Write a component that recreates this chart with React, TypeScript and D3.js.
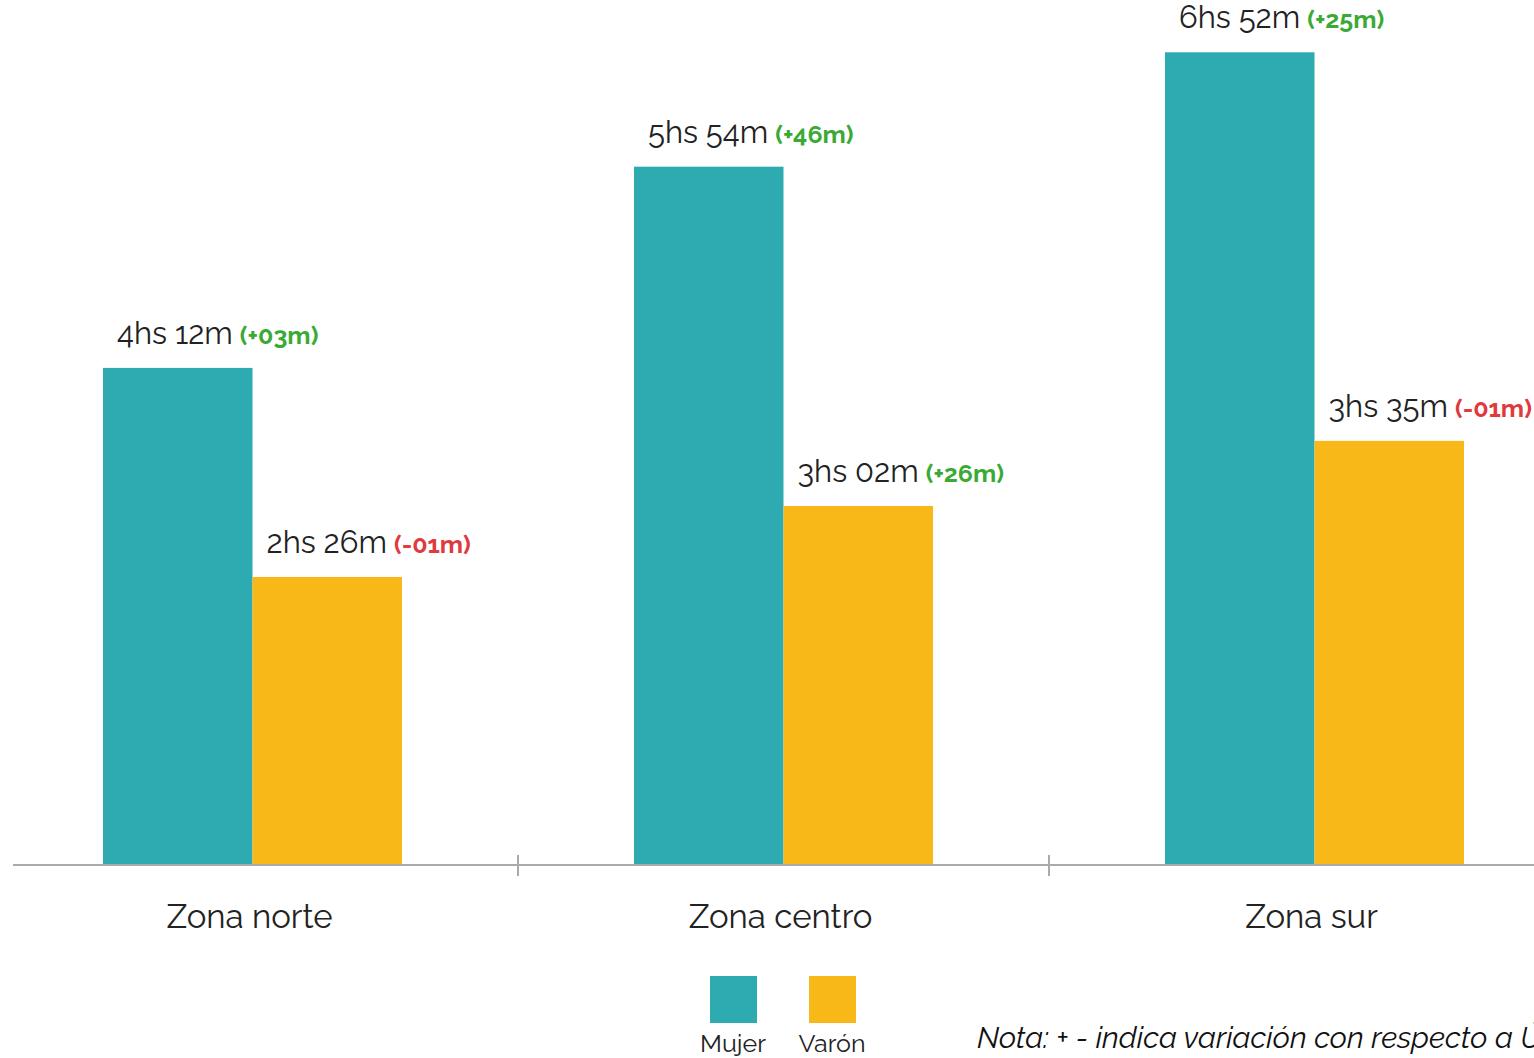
import React from "react";
import * as d3 from "d3";

const categories = ["Zona norte", "Zona centro", "Zona sur"];
const series = ["Mujer", "Varón"];
const mujerMinutes = [252, 354, 412];
const varonMinutes = [146, 182, 215];
const mujerLabels = ["4hs 12m", "5hs 54m", "6hs 52m"];
const varonLabels = ["2hs 26m", "3hs 02m", "3hs 35m"];
const mujerVar = ["(+03m)", "(+46m)", "(+25m)"];
const varonVar = ["(-01m)", "(+26m)", "(-01m)"];
const colors = ["#2EABB0", "#F8B817"];

const W = 1534;
const H = 1058;
const FONT = "Raleway, Lato, 'Open Sans', sans-serif";

export default function App() {
  const baseY = 865;
  const x0 = d3.scaleBand<string>().domain(categories).range([-13, 1580]).paddingInner(0).paddingOuter(0);
  const groupW = 299;
  const x1 = d3.scaleBand<string>().domain(series).range([0, groupW]).padding(0);
  const y = d3.scaleLinear().domain([0, 438.5]).range([baseY, 0]);
  const values = [mujerMinutes, varonMinutes];
  const labels = [mujerLabels, varonLabels];
  const vars = [mujerVar, varonVar];

  return (
    <svg
      width={W}
      height={H}
      style={{ position: "absolute", left: 0, top: 0, background: "#fff", overflow: "hidden" }}
      fontFamily={FONT}
    >
      {categories.map((c, ci) => {
        const gx = (x0(c) as number) + x0.bandwidth() / 2 - groupW / 2;
        return (
          <g key={c}>
            {series.map((s, si) => {
              const v = values[si][ci];
              const bx = gx + (x1(s) as number);
              const top = y(v);
              const varStr = vars[si][ci];
              const varColor = varStr.startsWith("(-") ? "#E0393E" : "#3AAA35";
              return (
                <g key={s}>
                  <rect x={bx} y={top} width={x1.bandwidth()} height={baseY - top} fill={colors[si]} />
                  <text x={bx + 14} y={top - 24} fontSize={31} fill="#222" fontWeight={400}>
                    {labels[si][ci]}
                    <tspan dx={7} fontSize={25} fontWeight={700} fill={varColor}>
                      {varStr}
                    </tspan>
                  </text>
                </g>
              );
            })}
            <text
              x={(x0(c) as number) + x0.bandwidth() / 2 - 3}
              y={928}
              fontSize={33}
              textAnchor="middle"
              fill="#222"
            >
              {c}
            </text>
          </g>
        );
      })}
      <line x1={13} x2={W} y1={baseY} y2={baseY} stroke="#aaa" strokeWidth={2} />
      {categories.slice(1).map((c) => (
        <line key={c} x1={x0(c) as number} x2={x0(c) as number} y1={855} y2={876} stroke="#aaa" strokeWidth={2} />
      ))}
      {series.map((s, si) => {
        const cx = 733 + si * 99;
        return (
          <g key={s}>
            <rect x={cx - 23} y={976} width={47} height={47} fill={colors[si]} />
            <text x={cx} y={1052} fontSize={25} textAnchor="middle" fill="#222">
              {s}
            </text>
          </g>
        );
      })}
      <text x={977} y={1048} fontSize={30} fontStyle="italic" fill="#111">
        Nota: + - indica variación con respecto a Último trimestre
      </text>
    </svg>
  );
}
